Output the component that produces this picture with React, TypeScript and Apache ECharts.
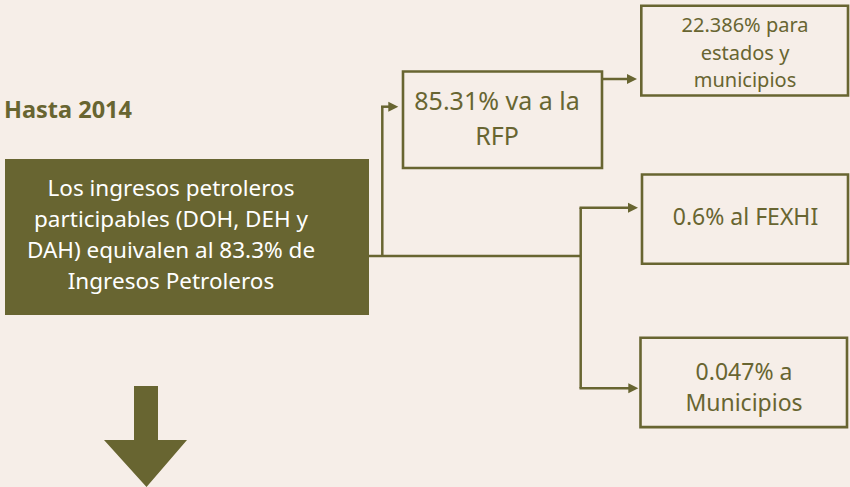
import React, { useEffect, useRef } from "react";
import * as echarts from "echarts";

const headerTitle = "Hasta 2014";
const sourceLines = [
  "Los ingresos petroleros",
  "participables (DOH, DEH y",
  "DAH) equivalen al 83.3% de",
  "Ingresos Petroleros",
];
const rfpLines = ["85.31% va a la", "RFP"];
const estadosLines = ["22.386% para", "estados y", "municipios"];
const fexhiLines = ["0.6% al FEXHI"];
const municipiosLines = ["0.047% a", "Municipios"];

const OLIVE = "#686531";
const BG = "#f6eee8";
const FONT = "'Noto Sans', sans-serif";

function arrow(x1: number, y: number, x2: number) {
  return [
    { type: "line", shape: { x1, y1: y, x2: x2 - 8, y2: y }, style: { stroke: OLIVE, lineWidth: 2.5 } },
    { type: "polygon", shape: { points: [[x2 - 10, y - 5], [x2, y], [x2 - 10, y + 5]] }, style: { fill: OLIVE } },
  ];
}

function box(x: number, y: number, w: number, h: number) {
  return { type: "rect", shape: { x, y, width: w, height: h }, style: { fill: "none", stroke: OLIVE, lineWidth: 2.6 } };
}

function label(lines: string[], x: number, y: number, size: number, lh: number, color: string) {
  return {
    type: "text",
    x,
    y,
    style: {
      text: lines.join("\n"),
      fill: color,
      font: `${size}px ${FONT}`,
      lineHeight: lh,
      align: "center",
      verticalAlign: "middle",
    },
  };
}

export default function App() {
  const ref = useRef<HTMLDivElement>(null);
  useEffect(() => {
    document.body.style.margin = "0";
    const chart = echarts.init(ref.current!, null, { renderer: "svg" });
    const elements: any[] = [
      {
        type: "text",
        x: 4,
        y: 109,
        style: { text: headerTitle, fill: OLIVE, font: `bold 23.5px ${FONT}`, verticalAlign: "middle", align: "left" },
      },
      { type: "rect", shape: { x: 5, y: 159, width: 364, height: 156 }, style: { fill: OLIVE } },
      label(sourceLines, 171, 234, 22.5, 31, "#ffffff"),
      box(403, 71.5, 199, 96.5),
      label(rfpLines, 497, 117, 25, 35, OLIVE),
      box(641.3, 5.8, 206.7, 89.7),
      label(estadosLines, 745, 52, 20, 27.5, OLIVE),
      box(642, 174.5, 206, 89.3),
      label(fexhiLines, 745.5, 216, 23, 31, OLIVE),
      box(640.5, 337.8, 206.5, 89.3),
      label(municipiosLines, 744, 386.5, 23, 31, OLIVE),
      { type: "line", shape: { x1: 382.3, y1: 106.7, x2: 382.3, y2: 256 }, style: { stroke: OLIVE, lineWidth: 2.5 } },
      { type: "line", shape: { x1: 369, y1: 256, x2: 580.7, y2: 256 }, style: { stroke: OLIVE, lineWidth: 2.5 } },
      { type: "line", shape: { x1: 580.7, y1: 207.7, x2: 580.7, y2: 388.3 }, style: { stroke: OLIVE, lineWidth: 2.5 } },
      ...arrow(381, 106.7, 398.3),
      ...arrow(603, 79, 637),
      ...arrow(579.5, 207.7, 638),
      ...arrow(579.5, 388.3, 638.3),
      {
        type: "polygon",
        shape: { points: [[134, 386], [158, 386], [158, 440], [187, 440], [146.5, 487], [104, 440], [134, 440]] },
        style: { fill: OLIVE },
      },
    ];
    chart.setOption({
      animation: false,
      backgroundColor: BG,
      graphic: { elements },
    });
    return () => chart.dispose();
  }, []);
  return <div ref={ref} style={{ width: 850, height: 487 }} />;
}
